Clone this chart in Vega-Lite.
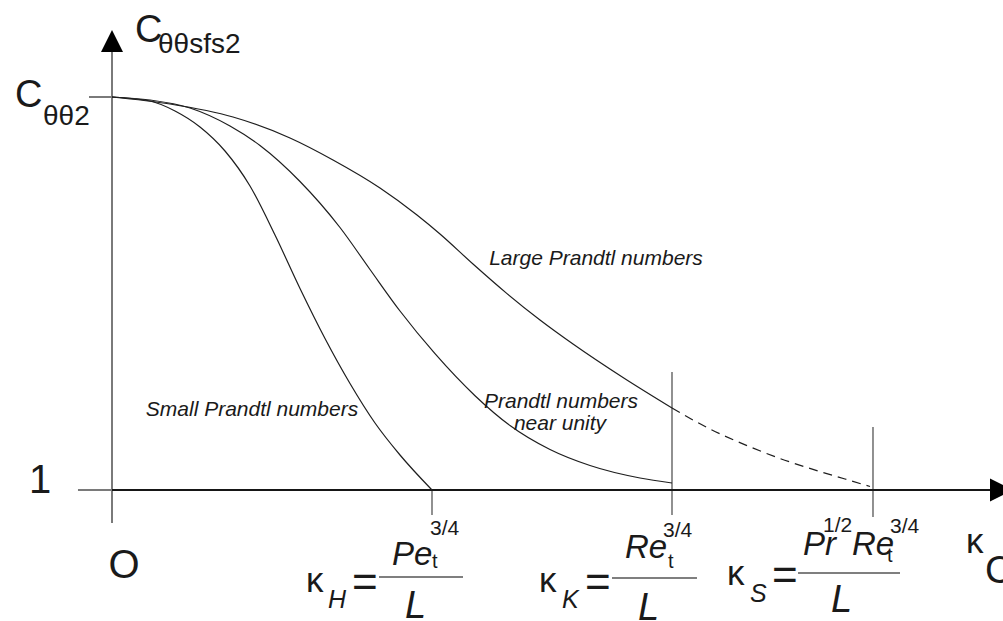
{
  "$schema": "https://vega.github.io/schema/vega-lite/v6.json",
  "width": 1003,
  "height": 621,
  "autosize": {"type": "none"},
  "padding": 0,
  "background": "white",
  "config": {"view": {"stroke": null}, "text": {"font": "Liberation Sans", "color": "#1a1a1a"}},
  "datasets": {
    "axisLines": [
      {"part": "ordinate", "k": 0, "c": 0.916, "k2": 0, "c2": 2.1145},
      {"part": "stub at 1", "k": -0.1063, "c": 1, "k2": 0, "c2": 1},
      {"part": "stub at C", "k": -0.0719, "c": 2, "k2": 0, "c2": 2}
    ],
    "marks": [
      {"part": "tick H", "k": 1, "c": 0.9364, "k2": 1, "c2": 1},
      {"part": "tick K", "k": 1.75, "c": 0.9364, "k2": 1.75, "c2": 1.3003},
      {"part": "tick S", "k": 2.3781, "c": 0.9313, "k2": 2.3781, "c2": 1.1603},
      {"part": "fraction H", "k": 0.8344, "c": 0.7786, "k2": 1.0969, "c2": 0.7786},
      {"part": "fraction K", "k": 1.5625, "c": 0.7761, "k2": 1.8281, "c2": 0.7761},
      {"part": "fraction S", "k": 2.1438, "c": 0.7888, "k2": 2.4625, "c2": 0.7888}
    ],
    "abscissa": [
      {"part": "abscissa", "k": 0, "c": 1, "k2": 2.7438, "c2": 1}
    ],
    "curves": [
      {"curve": "small", "k": 0, "c": 2.0},
      {"curve": "small", "k": 0.11875, "c": 1.98982},
      {"curve": "small", "k": 0.19688, "c": 1.96438},
      {"curve": "small", "k": 0.275, "c": 1.92366},
      {"curve": "small", "k": 0.35313, "c": 1.8626},
      {"curve": "small", "k": 0.43125, "c": 1.77354},
      {"curve": "small", "k": 0.50938, "c": 1.64885},
      {"curve": "small", "k": 0.5875, "c": 1.51272},
      {"curve": "small", "k": 0.66563, "c": 1.3855},
      {"curve": "small", "k": 0.74375, "c": 1.27099},
      {"curve": "small", "k": 0.82188, "c": 1.17048},
      {"curve": "small", "k": 0.9, "c": 1.08906},
      {"curve": "small", "k": 1.0, "c": 1.0},
      {"curve": "unity", "k": 0, "c": 2.0},
      {"curve": "unity", "k": 0.11875, "c": 1.99237},
      {"curve": "unity", "k": 0.24375, "c": 1.97201},
      {"curve": "unity", "k": 0.36875, "c": 1.92621},
      {"curve": "unity", "k": 0.4625, "c": 1.87659},
      {"curve": "unity", "k": 0.5875, "c": 1.78499},
      {"curve": "unity", "k": 0.7125, "c": 1.66794},
      {"curve": "unity", "k": 0.80625, "c": 1.56107},
      {"curve": "unity", "k": 0.9, "c": 1.45547},
      {"curve": "unity", "k": 1.00938, "c": 1.34682},
      {"curve": "unity", "k": 1.13438, "c": 1.23995},
      {"curve": "unity", "k": 1.24375, "c": 1.16412},
      {"curve": "unity", "k": 1.36875, "c": 1.10305},
      {"curve": "unity", "k": 1.49375, "c": 1.06234},
      {"curve": "unity", "k": 1.65, "c": 1.03053},
      {"curve": "unity", "k": 1.75, "c": 1.01781},
      {"curve": "large", "k": 0, "c": 2.0},
      {"curve": "large", "k": 0.18125, "c": 1.98219},
      {"curve": "large", "k": 0.37813, "c": 1.94911},
      {"curve": "large", "k": 0.55625, "c": 1.89567},
      {"curve": "large", "k": 0.69063, "c": 1.83969},
      {"curve": "large", "k": 0.8375, "c": 1.76845},
      {"curve": "large", "k": 0.95313, "c": 1.69975},
      {"curve": "large", "k": 1.025, "c": 1.6514},
      {"curve": "large", "k": 1.12813, "c": 1.57506},
      {"curve": "large", "k": 1.23438, "c": 1.49975},
      {"curve": "large", "k": 1.3375, "c": 1.43257},
      {"curve": "large", "k": 1.44063, "c": 1.3715},
      {"curve": "large", "k": 1.59688, "c": 1.28626},
      {"curve": "large", "k": 1.75, "c": 1.20865}
    ],
    "extension": [
      {"curve": "large", "k": 1.75, "c": 1.20865},
      {"curve": "large", "k": 1.86875, "c": 1.15522},
      {"curve": "large", "k": 1.98438, "c": 1.11298},
      {"curve": "large", "k": 2.0875, "c": 1.08015},
      {"curve": "large", "k": 2.19063, "c": 1.05242},
      {"curve": "large", "k": 2.29063, "c": 1.02799},
      {"curve": "large", "k": 2.36875, "c": 1.00891}
    ],
    "arrowUp": [{"k": 0, "c": 2.1425}],
    "arrowRight": [{"k": 2.7797, "c": 1}],
    "labels": [
      {"role": "symbol", "text": "C", "k": 0.0719, "c": 2.1399},
      {"role": "symbol", "text": "C", "k": -0.3031, "c": 1.9746},
      {"role": "symbol", "text": "C", "k": 2.7281, "c": 0.7634},
      {"role": "index", "text": "θθsfs2", "k": 0.1438, "c": 2.112},
      {"role": "index", "text": "θθ2", "k": -0.2156, "c": 1.9288},
      {"role": "origin", "text": "1", "k": -0.225, "c": 0.9924},
      {"role": "origin", "text": "O", "k": 0.0375, "c": 0.7761},
      {"role": "regime", "text": "Large Prandtl numbers", "k": 1.5125, "c": 1.5725},
      {"role": "regime", "text": "Small Prandtl numbers", "k": 0.4375, "c": 1.1883},
      {"role": "regime", "text": "Prandtl numbers", "k": 1.4031, "c": 1.2087},
      {"role": "regime", "text": "near unity", "k": 1.4, "c": 1.1527},
      {"role": "kappa", "text": "κ", "k": 0.6063, "c": 0.7405},
      {"role": "kappa", "text": "κ", "k": 1.3344, "c": 0.7405},
      {"role": "kappa", "text": "κ", "k": 1.9219, "c": 0.7583},
      {"role": "kappa", "text": "κ", "k": 2.6688, "c": 0.8397},
      {"role": "kappaIndex", "text": "H", "k": 0.675, "c": 0.6997},
      {"role": "kappaIndex", "text": "K", "k": 1.4063, "c": 0.6997},
      {"role": "kappaIndex", "text": "S", "k": 1.9938, "c": 0.715},
      {"role": "equals", "text": "=", "k": 0.75, "c": 0.7277},
      {"role": "equals", "text": "=", "k": 1.4781, "c": 0.7277},
      {"role": "equals", "text": "=", "k": 2.0625, "c": 0.7455},
      {"role": "numerator", "text": "Pe", "k": 0.875, "c": 0.8092},
      {"role": "numerator", "text": "Re", "k": 1.6031, "c": 0.827},
      {"role": "numerator", "text": "Pr", "k": 2.1594, "c": 0.8346},
      {"role": "numerator", "text": "Re", "k": 2.3125, "c": 0.8346},
      {"role": "turbulent", "text": "t", "k": 1.0, "c": 0.8015},
      {"role": "turbulent", "text": "t", "k": 1.7375, "c": 0.8015},
      {"role": "turbulent", "text": "t", "k": 2.4219, "c": 0.8168},
      {"role": "power", "text": "3/4", "k": 0.9938, "c": 0.8855},
      {"role": "power", "text": "3/4", "k": 1.7219, "c": 0.8804},
      {"role": "power", "text": "1/2", "k": 2.2219, "c": 0.8931},
      {"role": "power", "text": "3/4", "k": 2.4313, "c": 0.8906},
      {"role": "length", "text": "L", "k": 0.9156, "c": 0.6743},
      {"role": "length", "text": "L", "k": 1.6438, "c": 0.6692},
      {"role": "length", "text": "L", "k": 2.2469, "c": 0.6896}
    ]
  },
  "encoding": {
    "x": {"field": "k", "type": "quantitative", "axis": null,
          "scale": {"domain": [-0.35, 2.784375], "nice": false, "zero": false}},
    "y": {"field": "c", "type": "quantitative", "axis": null,
          "scale": {"domain": [0.666667, 2.246819], "nice": false, "zero": false}}
  },
  "layer": [
    {
      "data": {"name": "axisLines"},
      "mark": {"type": "rule", "color": "#7a7a7a", "strokeWidth": 2},
      "encoding": {"x2": {"field": "k2"}, "y2": {"field": "c2"}}
    },
    {
      "data": {"name": "marks"},
      "mark": {"type": "rule", "color": "#555555", "strokeWidth": 1.3},
      "encoding": {"x2": {"field": "k2"}, "y2": {"field": "c2"}}
    },
    {
      "data": {"name": "abscissa"},
      "mark": {"type": "rule", "color": "#161616", "strokeWidth": 2},
      "encoding": {"x2": {"field": "k2"}, "y2": {"field": "c2"}}
    },
    {
      "data": {"name": "curves"},
      "mark": {"type": "line", "color": "#1e1e1e", "strokeWidth": 1.2, "interpolate": "monotone"},
      "encoding": {"detail": {"field": "curve"}}
    },
    {
      "data": {"name": "extension"},
      "mark": {"type": "line", "color": "#1e1e1e", "strokeWidth": 1.2, "interpolate": "monotone", "strokeDash": [9, 6]},
      "encoding": {"detail": {"field": "curve"}}
    },
    {
      "data": {"name": "arrowUp"},
      "mark": {"type": "point", "filled": true, "color": "#000000", "opacity": 1, "size": 484, "shape": "M0,-1L1,1L-1,1Z", "strokeWidth": 0}
    },
    {
      "data": {"name": "arrowRight"},
      "mark": {"type": "point", "filled": true, "color": "#000000", "opacity": 1, "size": 529, "shape": "M-1,-1L1,0L-1,1Z", "strokeWidth": 0}
    },
    {
      "data": {"name": "labels"},
      "transform": [{"filter": "datum.role === 'symbol'"}],
      "mark": {"type": "text", "fontSize": 38, "align": "left", "baseline": "alphabetic"},
      "encoding": {"text": {"field": "text"}}
    },
    {
      "data": {"name": "labels"},
      "transform": [{"filter": "datum.role === 'index'"}],
      "mark": {"type": "text", "fontSize": 28, "align": "left", "baseline": "alphabetic"},
      "encoding": {"text": {"field": "text"}}
    },
    {
      "data": {"name": "labels"},
      "transform": [{"filter": "datum.role === 'origin'"}],
      "mark": {"type": "text", "fontSize": 40, "align": "center", "baseline": "alphabetic"},
      "encoding": {"text": {"field": "text"}}
    },
    {
      "data": {"name": "labels"},
      "transform": [{"filter": "datum.role === 'regime'"}],
      "mark": {"type": "text", "fontSize": 21, "fontStyle": "italic", "align": "center", "baseline": "alphabetic"},
      "encoding": {"text": {"field": "text"}}
    },
    {
      "data": {"name": "labels"},
      "transform": [{"filter": "datum.role === 'kappa'"}],
      "mark": {"type": "text", "fontSize": 35, "align": "left", "baseline": "alphabetic"},
      "encoding": {"text": {"field": "text"}}
    },
    {
      "data": {"name": "labels"},
      "transform": [{"filter": "datum.role === 'kappaIndex'"}],
      "mark": {"type": "text", "fontSize": 25, "fontStyle": "italic", "align": "left", "baseline": "alphabetic"},
      "encoding": {"text": {"field": "text"}}
    },
    {
      "data": {"name": "labels"},
      "transform": [{"filter": "datum.role === 'equals'"}],
      "mark": {"type": "text", "fontSize": 44, "align": "left", "baseline": "alphabetic"},
      "encoding": {"text": {"field": "text"}}
    },
    {
      "data": {"name": "labels"},
      "transform": [{"filter": "datum.role === 'numerator'"}],
      "mark": {"type": "text", "fontSize": 33, "fontStyle": "italic", "align": "left", "baseline": "alphabetic"},
      "encoding": {"text": {"field": "text"}}
    },
    {
      "data": {"name": "labels"},
      "transform": [{"filter": "datum.role === 'turbulent'"}],
      "mark": {"type": "text", "fontSize": 20, "align": "left", "baseline": "alphabetic"},
      "encoding": {"text": {"field": "text"}}
    },
    {
      "data": {"name": "labels"},
      "transform": [{"filter": "datum.role === 'power'"}],
      "mark": {"type": "text", "fontSize": 21, "align": "left", "baseline": "alphabetic"},
      "encoding": {"text": {"field": "text"}}
    },
    {
      "data": {"name": "labels"},
      "transform": [{"filter": "datum.role === 'length'"}],
      "mark": {"type": "text", "fontSize": 38, "fontStyle": "italic", "align": "left", "baseline": "alphabetic"},
      "encoding": {"text": {"field": "text"}}
    }
  ]
}
